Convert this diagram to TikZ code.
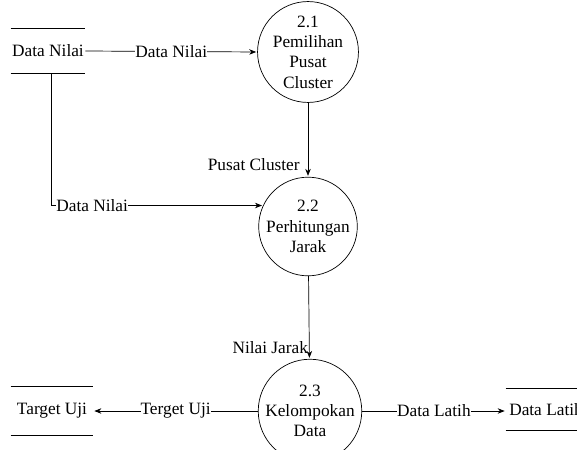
\documentclass[tikz,border=0pt]{standalone}
\usepackage{fontspec}
\setmainfont{Liberation Serif}
\usetikzlibrary{positioning, arrows.meta, shapes}

\begin{document}
\begin{tikzpicture}[x=1pt, y=-1pt, >={Stealth[length=7pt, width=5.5pt]}, shorten >= 1pt, line width=0.7pt,
    font=\rmfamily\fontsize{17.3}{20.3}\selectfont,
    proses/.style={circle, draw, minimum size=94pt, inner sep=0pt, align=center},
    simpan/.style={minimum height=44pt, inner sep=0pt},
    lbl/.style={fill=white, inner sep=0pt}]
  \useasboundingbox (0,0) rectangle (577,449);

  \node[simpan, minimum width=74pt] (dn) at (48,51) {Data Nilai};
  \node[proses] (p21) at (308,52) {2.1\\Pemilihan\\Pusat\\Cluster};
  \node[proses] (p22) at (308,226.5) {2.2\\Perhitungan\\Jarak};
  \node[proses] (p23) at (310,411) {2.3\\Kelompokan\\Data};
  \node[simpan, minimum width=82pt, minimum height=48pt] (tu) at (52,411) {Target Uji};
  \node[simpan, minimum width=80pt, minimum height=41pt] (dl) at (546,409.5) {Data Latih};

  % garis data store
  \foreach \s in {dn, tu, dl}
    \draw[shorten >=0pt] (\s.north west) -- (\s.north east) (\s.south west) -- (\s.south east);

  \draw[->] (dn.east) -- node[lbl] {Data Nilai} (p21.west);
  \draw[->] (p21) -- node[pos=0.84, left=8pt, inner sep=0pt] {Pusat Cluster} (p22);
  \draw[->] ([xshift=3.7pt]dn.south) |- node[lbl, pos=0.5, anchor=west, xshift=4.3pt] {Data Nilai} (p22.155);
  \draw[->] (p22) -- node[pos=0.86, left=1pt, inner sep=0pt] {Nilai Jarak} (p23);
  \draw[->] (p23) -- node[lbl] {Terget Uji} (tu);
  \draw[->] (p23.east) -- node[lbl] {Data Latih} (p23.east -| dl.west);
\end{tikzpicture}
\end{document}
